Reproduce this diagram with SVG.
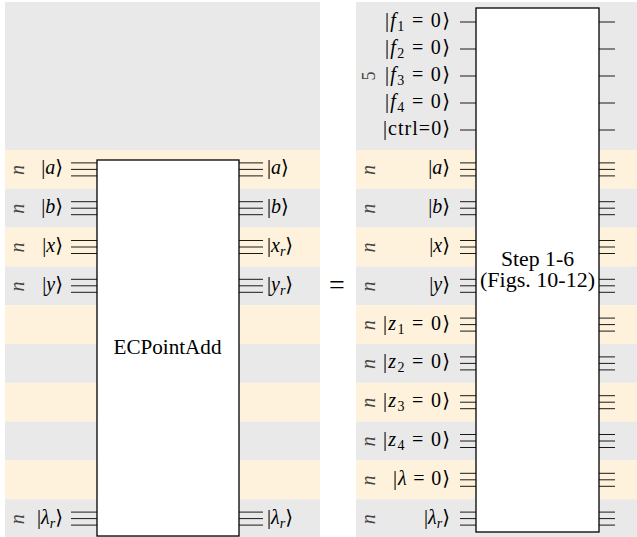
<svg xmlns="http://www.w3.org/2000/svg" width="637" height="537" viewBox="0 0 637 537">
<style>
.g{fill:#e9e9e9}
.y{fill:#fef2dc}
.w{stroke:#1a1a1a;stroke-width:1;fill:none}
.box{fill:#fff;stroke:#000;stroke-width:1.3}
.t{font-family:"Liberation Serif","DejaVu Serif",serif;font-size:20px;fill:#000}
.it{font-style:italic}
.s{font-size:14px}
.n{font-family:"Liberation Serif","DejaVu Serif",serif;font-size:20px;font-style:italic;fill:#444;text-anchor:middle}
.end{text-anchor:end}
.mid{text-anchor:middle}
</style>
<g id="backgrounds">
<rect class="g" x="5" y="2" width="315" height="148"/>
<rect class="y" x="5" y="150" width="315" height="38.8"/>
<rect class="g" x="5" y="188.8" width="315" height="38.8"/>
<rect class="y" x="5" y="227.6" width="315" height="38.8"/>
<rect class="g" x="5" y="266.4" width="315" height="38.8"/>
<rect class="y" x="5" y="305.2" width="315" height="38.8"/>
<rect class="g" x="5" y="344" width="315" height="38.8"/>
<rect class="y" x="5" y="382.8" width="315" height="38.8"/>
<rect class="g" x="5" y="421.6" width="315" height="38.8"/>
<rect class="y" x="5" y="460.4" width="315" height="38.8"/>
<rect class="g" x="5" y="499.2" width="315" height="37.8"/>
<rect class="g" x="356" y="2" width="281" height="148"/>
<rect class="y" x="356" y="150" width="281" height="38.8"/>
<rect class="g" x="356" y="188.8" width="281" height="38.8"/>
<rect class="y" x="356" y="227.6" width="281" height="38.8"/>
<rect class="g" x="356" y="266.4" width="281" height="38.8"/>
<rect class="y" x="356" y="305.2" width="281" height="38.8"/>
<rect class="g" x="356" y="344" width="281" height="38.8"/>
<rect class="y" x="356" y="382.8" width="281" height="38.8"/>
<rect class="g" x="356" y="421.6" width="281" height="38.8"/>
<rect class="y" x="356" y="460.4" width="281" height="38.8"/>
<rect class="g" x="356" y="499.2" width="281" height="37.8"/>
</g>
<g id="connectors">
<path class="w" d="M71 162.9h26M71 169.4h26M71 175.9h26M71 201.7h26M71 208.2h26M71 214.7h26M71 240.5h26M71 247h26M71 253.5h26M71 279.3h26M71 285.8h26M71 292.3h26M71 512.1h26M71 518.6h26M71 525.1h26"/>
<path class="w" d="M239 162.9h24M239 169.4h24M239 175.9h24M239 201.7h24M239 208.2h24M239 214.7h24M239 240.5h24M239 247h24M239 253.5h24M239 279.3h24M239 285.8h24M239 292.3h24M239 512.1h24M239 518.6h24M239 525.1h24"/>
<path class="w" d="M460 22h16M460 49h16M460 76h16M460 103h16M460 130h16M599 22h16M599 49h16M599 76h16M599 103h16M599 130h16"/>
<path class="w" d="M460 162.9h16M460 169.4h16M460 175.9h16M460 201.7h16M460 208.2h16M460 214.7h16M460 240.5h16M460 247h16M460 253.5h16M460 279.3h16M460 285.8h16M460 292.3h16M460 318.1h16M460 324.6h16M460 331.1h16M460 356.9h16M460 363.4h16M460 369.9h16M460 395.7h16M460 402.2h16M460 408.7h16M460 434.5h16M460 441h16M460 447.5h16M460 473.3h16M460 479.8h16M460 486.3h16M460 512.1h16M460 518.6h16M460 525.1h16"/>
<path class="w" d="M599 162.9h16M599 169.4h16M599 175.9h16M599 201.7h16M599 208.2h16M599 214.7h16M599 240.5h16M599 247h16M599 253.5h16M599 279.3h16M599 285.8h16M599 292.3h16M599 318.1h16M599 324.6h16M599 331.1h16M599 356.9h16M599 363.4h16M599 369.9h16M599 395.7h16M599 402.2h16M599 408.7h16M599 434.5h16M599 441h16M599 447.5h16M599 473.3h16M599 479.8h16M599 486.3h16M599 512.1h16M599 518.6h16M599 525.1h16"/>
</g>
<g id="ecpointadd">
<rect class="box" x="97" y="160" width="142" height="376"/>
<text class="t mid" x="167.5" y="354" style="font-size:20px" textLength="108" lengthAdjust="spacingAndGlyphs">ECPointAdd</text>
</g>
<g id="left-inputs">
<text class="n" transform="translate(20,170) rotate(-90)" y="4">n</text>
<text class="t end" x="63" y="174.4">|<tspan class="it">a</tspan>⟩</text>
<text class="n" transform="translate(20,208.8) rotate(-90)" y="4">n</text>
<text class="t end" x="63" y="213.2">|<tspan class="it">b</tspan>⟩</text>
<text class="n" transform="translate(20,247.6) rotate(-90)" y="4">n</text>
<text class="t end" x="63" y="252">|<tspan class="it">x</tspan>⟩</text>
<text class="n" transform="translate(20,286.4) rotate(-90)" y="4">n</text>
<text class="t end" x="63" y="290.8">|<tspan class="it">y</tspan>⟩</text>
<text class="n" transform="translate(20,519.2) rotate(-90)" y="4">n</text>
<text class="t end" x="63" y="523.6">|<tspan class="it">λ</tspan><tspan class="it s" dy="4">r</tspan><tspan dy="-4">⟩</tspan></text>
</g>
<g id="left-outputs">
<text class="t" x="267" y="174.4">|<tspan class="it">a</tspan>⟩</text>
<text class="t" x="267" y="213.2">|<tspan class="it">b</tspan>⟩</text>
<text class="t" x="267" y="252">|<tspan class="it">x</tspan><tspan class="it s" dy="4">r</tspan><tspan dy="-4">⟩</tspan></text>
<text class="t" x="267" y="290.8">|<tspan class="it">y</tspan><tspan class="it s" dy="4">r</tspan><tspan dy="-4">⟩</tspan></text>
<text class="t" x="267" y="523.6">|<tspan class="it">λ</tspan><tspan class="it s" dy="4">r</tspan><tspan dy="-4">⟩</tspan></text>
</g>
<g id="equals">
<text class="t mid" x="337" y="294" style="font-size:28px">=</text>
</g>
<g id="step16">
<rect class="box" x="476" y="8" width="123" height="524"/>
<text class="t mid" x="537.5" y="266" style="font-size:20px" textLength="73" lengthAdjust="spacingAndGlyphs">Step 1-6</text>
<text class="t mid" x="537.5" y="287" style="font-size:20px" textLength="115" lengthAdjust="spacingAndGlyphs">(Figs. 10-12)</text>
</g>
<g id="right-flags">
<text class="t end" x="450" y="27" textLength="65" lengthAdjust="spacing">|<tspan class="it">f</tspan><tspan class="s" dy="4">1</tspan><tspan dy="-4"> = 0⟩</tspan></text>
<text class="t end" x="450" y="54" textLength="65" lengthAdjust="spacing">|<tspan class="it">f</tspan><tspan class="s" dy="4">2</tspan><tspan dy="-4"> = 0⟩</tspan></text>
<text class="t end" x="450" y="81" textLength="65" lengthAdjust="spacing">|<tspan class="it">f</tspan><tspan class="s" dy="4">3</tspan><tspan dy="-4"> = 0⟩</tspan></text>
<text class="t end" x="450" y="108" textLength="65" lengthAdjust="spacing">|<tspan class="it">f</tspan><tspan class="s" dy="4">4</tspan><tspan dy="-4"> = 0⟩</tspan></text>
<text class="t end" x="450" y="135" textLength="67" lengthAdjust="spacing">|ctrl=0⟩</text>
<text class="n" style="font-style:normal;font-size:18px" transform="translate(369,76) rotate(-90)" y="6">5</text>
</g>
<g id="right-inputs">
<text class="n" transform="translate(371,170) rotate(-90)" y="4">n</text>
<text class="t end" x="450" y="174.4">|<tspan class="it">a</tspan>⟩</text>
<text class="n" transform="translate(371,208.8) rotate(-90)" y="4">n</text>
<text class="t end" x="450" y="213.2">|<tspan class="it">b</tspan>⟩</text>
<text class="n" transform="translate(371,247.6) rotate(-90)" y="4">n</text>
<text class="t end" x="450" y="252">|<tspan class="it">x</tspan>⟩</text>
<text class="n" transform="translate(371,286.4) rotate(-90)" y="4">n</text>
<text class="t end" x="450" y="290.8">|<tspan class="it">y</tspan>⟩</text>
<text class="n" transform="translate(371,325.2) rotate(-90)" y="4">n</text>
<text class="t end" x="450" y="329.6" textLength="67" lengthAdjust="spacing">|<tspan class="it">z</tspan><tspan class="s" dy="4">1</tspan><tspan dy="-4"> = 0⟩</tspan></text>
<text class="n" transform="translate(371,364) rotate(-90)" y="4">n</text>
<text class="t end" x="450" y="368.4" textLength="67" lengthAdjust="spacing">|<tspan class="it">z</tspan><tspan class="s" dy="4">2</tspan><tspan dy="-4"> = 0⟩</tspan></text>
<text class="n" transform="translate(371,402.8) rotate(-90)" y="4">n</text>
<text class="t end" x="450" y="407.2" textLength="67" lengthAdjust="spacing">|<tspan class="it">z</tspan><tspan class="s" dy="4">3</tspan><tspan dy="-4"> = 0⟩</tspan></text>
<text class="n" transform="translate(371,441.6) rotate(-90)" y="4">n</text>
<text class="t end" x="450" y="446" textLength="67" lengthAdjust="spacing">|<tspan class="it">z</tspan><tspan class="s" dy="4">4</tspan><tspan dy="-4"> = 0⟩</tspan></text>
<text class="n" transform="translate(371,480.4) rotate(-90)" y="4">n</text>
<text class="t end" x="450" y="484.8" textLength="57" lengthAdjust="spacing">|<tspan class="it">λ</tspan> = 0⟩</text>
<text class="n" transform="translate(371,519.2) rotate(-90)" y="4">n</text>
<text class="t end" x="450" y="523.6">|<tspan class="it">λ</tspan><tspan class="it s" dy="4">r</tspan><tspan dy="-4">⟩</tspan></text>
</g>
</svg>
